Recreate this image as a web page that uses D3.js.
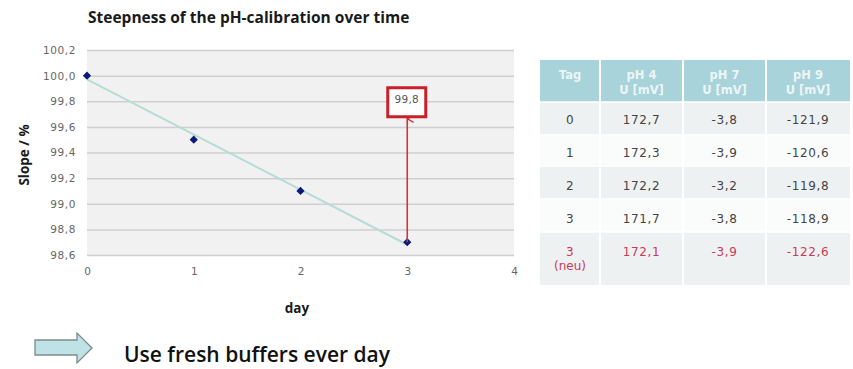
<!DOCTYPE html>
<html>
<head>
<meta charset="utf-8">
<script src="https://cdn.jsdelivr.net/npm/d3@7"></script>
<style>
  html, body { margin: 0; padding: 0; background: #fff; }
  svg { display: block; }
</style>
</head>
<body>
<svg id="chart" width="853" height="369"></svg>
<script>
// Calibration slope per day
const days = [0, 1, 2, 3];
const slopes = [100.0, 99.5, 99.1, 98.7];
const freshSlope = 99.8;          // slope after switching to new buffers on day 3
const yTicks = [98.6, 98.8, 99.0, 99.2, 99.4, 99.6, 99.8, 100.0, 100.2];
const xTicks = [0, 1, 2, 3, 4];

// Electrode voltages per buffer
const tableHeader = [["Tag"], ["pH 4", "U [mV]"], ["pH 7", "U [mV]"], ["pH 9", "U [mV]"]];
const tagLabels = [["0"], ["1"], ["2"], ["3"], ["3", "(neu)"]];
const ph4 = [172.7, 172.3, 172.2, 171.7, 172.1];
const ph7 = [-3.8, -3.9, -3.2, -3.8, -3.9];
const ph9 = [-121.9, -120.6, -119.8, -118.9, -122.6];

const svg = d3.select("#chart");
const comma = v => d3.format(".1f")(v).replace(".", ",").replace("\u2212", "-");
const sans = "Open Sans, sans-serif";
const numFont = "DejaVu Sans, Verdana, sans-serif";

// ---- scatter chart ----
const x = d3.scaleLinear().domain([0, 4]).range([87, 514]);
const y = d3.scaleLinear().domain([98.6, 100.2]).range([255, 50]);

svg.append("text")
  .attr("x", 88).attr("y", 23)
  .attr("font-family", sans).attr("font-weight", 700)
  .attr("font-size", 15.5).attr("fill", "#1a1a1a")
  .text("Steepness of the pH-calibration over time");

svg.append("rect")
  .attr("x", x(0)).attr("y", y(100.2))
  .attr("width", x(4) - x(0)).attr("height", y(98.6) - y(100.2))
  .attr("fill", "#f1f1f1");

const yAxis = svg.append("g").attr("transform", `translate(${x(0)},0)`)
  .call(d3.axisLeft(y).tickValues(yTicks).tickFormat(comma).tickSize(-(x(4) - x(0))).tickPadding(11));
yAxis.select(".domain").remove();
yAxis.selectAll("line").attr("stroke", "#cfcfcf").attr("stroke-width", 1.5);
yAxis.selectAll("text").attr("font-family", numFont)
  .attr("font-size", 10.5).attr("letter-spacing", 0.6).attr("fill", "#666");

const xAxis = svg.append("g").attr("transform", `translate(0,${y(98.6)})`)
  .call(d3.axisBottom(x).tickValues(xTicks).tickFormat(d3.format("d")).tickSize(0).tickPadding(13));
xAxis.select(".domain").remove();
xAxis.selectAll("text").attr("font-family", numFont)
  .attr("font-size", 10.5).attr("fill", "#666");

// linear trend line through the daily slopes
const n = days.length;
const mx = d3.mean(days), my = d3.mean(slopes);
const b = d3.sum(days, (d, i) => (d - mx) * (slopes[i] - my)) / d3.sum(days, d => (d - mx) ** 2);
const a = my - b * mx;
svg.append("line")
  .attr("x1", x(days[0])).attr("y1", y(a + b * days[0]))
  .attr("x2", x(days[n - 1])).attr("y2", y(a + b * days[n - 1]))
  .attr("stroke", "#b5ddd6").attr("stroke-width", 2);

// diamond markers
svg.append("g").selectAll("path").data(days).join("path")
  .attr("transform", (d, i) => `translate(${x(d)},${y(slopes[i])}) rotate(45)`)
  .attr("d", "M-2.9,-2.9H2.9V2.9H-2.9Z")
  .attr("fill", "#0a1a7a");

svg.append("text")
  .attr("transform", `translate(29,155) rotate(-90)`)
  .attr("text-anchor", "middle")
  .attr("font-family", sans).attr("font-weight", 700)
  .attr("font-size", 13.5).attr("fill", "#1a1a1a")
  .text("Slope / %");

svg.append("text")
  .attr("x", 297).attr("y", 313).attr("text-anchor", "middle")
  .attr("font-family", sans).attr("font-weight", 700)
  .attr("font-size", 13.5).attr("fill", "#1a1a1a")
  .text("day");

// callout: slope with fresh buffers
const lastDay = days[n - 1];
const boxW = 38, boxH = 29;
const bx = x(lastDay) - boxW / 2 - 0.5, by = y(freshSlope) - 13.5;
const defs = svg.append("defs");
defs.append("marker").attr("id", "head")
  .attr("viewBox", "0 0 10 10").attr("refX", 5).attr("refY", 1)
  .attr("markerWidth", 9).attr("markerHeight", 9).attr("orient", "auto-start-reverse")
  .attr("markerUnits", "userSpaceOnUse")
  .append("path").attr("d", "M1,8 L5,1 L9,8").attr("fill", "none")
  .attr("stroke", "#d0343a").attr("stroke-width", 1.6);
svg.append("line")
  .attr("x1", x(lastDay)).attr("y1", y(slopes[n - 1]))
  .attr("x2", x(lastDay)).attr("y2", by + boxH + 2)
  .attr("stroke", "#d0343a").attr("stroke-width", 1.6)
  .attr("marker-end", "url(#head)");
svg.append("rect")
  .attr("x", bx).attr("y", by).attr("width", boxW).attr("height", boxH)
  .attr("fill", "#fff").attr("stroke", "#c8202a").attr("stroke-width", 3);
svg.append("text")
  .attr("x", bx + boxW / 2).attr("y", by + 15).attr("text-anchor", "middle")
  .attr("font-family", numFont).attr("font-size", 10.5).attr("letter-spacing", 0.3)
  .attr("fill", "#555").text(comma(freshSlope));

// ---- data table ----
const colX = [540, 600, 683, 766, 850];
const headerTop = 60, headerBottom = 102;
const rowEdges = [102, 135, 166, 199, 232, 285];

const tbl = svg.append("g");
tbl.append("rect").attr("x", colX[0]).attr("y", headerTop)
  .attr("width", colX[4] - colX[0]).attr("height", headerBottom - headerTop)
  .attr("fill", "#a9d3da");
tagLabels.forEach((t, r) => {
  tbl.append("rect").attr("x", colX[0]).attr("y", rowEdges[r])
    .attr("width", colX[4] - colX[0]).attr("height", rowEdges[r + 1] - rowEdges[r])
    .attr("fill", r % 2 === 0 ? "#eef1f2" : "#fafcfc");
});
// white cell separators
colX.slice(1, 4).forEach(cx => {
  tbl.append("line").attr("x1", cx).attr("x2", cx).attr("y1", headerTop).attr("y2", rowEdges[5])
    .attr("stroke", "#fff").attr("stroke-width", 2);
});
rowEdges.slice(0, 5).forEach(ry => {
  tbl.append("line").attr("x1", colX[0]).attr("x2", colX[4]).attr("y1", ry).attr("y2", ry)
    .attr("stroke", "#fff").attr("stroke-width", 1.5);
});

tableHeader.forEach((lines, c) => {
  const cx = (colX[c] + colX[c + 1]) / 2;
  lines.forEach((s, k) => {
    tbl.append("text")
      .attr("x", cx).attr("y", lines.length === 1 ? 79 : 79 + k * 15)
      .attr("text-anchor", "middle").attr("font-family", numFont)
      .attr("font-weight", 700).attr("font-size", 11.5).attr("fill", "#fff")
      .attr("fill-opacity", 0.8)
      .text(s);
  });
});

const rowBase = [124, 157, 190, 223, 256];
tagLabels.forEach((t, r) => {
  const red = r === tagLabels.length - 1;
  const col = red ? "#c93a58" : "#444";
  const cells = [null, comma(ph4[r]), comma(ph7[r]), comma(ph9[r])];
  t.forEach((s, k) => {
    tbl.append("text").attr("x", (colX[0] + colX[1]) / 2).attr("y", rowBase[r] + k * 14)
      .attr("text-anchor", "middle").attr("font-family", numFont)
      .attr("font-size", 12).attr("letter-spacing", k ? 0 : 0.5).attr("fill", col).text(s);
  });
  cells.slice(1).forEach((s, c) => {
    tbl.append("text").attr("x", (colX[c + 1] + colX[c + 2]) / 2).attr("y", rowBase[r])
      .attr("text-anchor", "middle").attr("font-family", numFont)
      .attr("font-size", 12).attr("letter-spacing", 0.6).attr("fill", col).text(s);
  });
});

// ---- recommendation ----
svg.append("path")
  .attr("d", "M35,340 H77 V333 L92,348 L77,363 V355 H35 Z")
  .attr("fill", "#bfe2e7").attr("stroke", "#7d8a8c").attr("stroke-width", 1.3);
svg.append("text")
  .attr("x", 124).attr("y", 362)
  .attr("font-family", sans).attr("font-weight", 600).attr("font-size", 21)
  .attr("fill", "#111")
  .text("Use fresh buffers ever day");
</script>
</body>
</html>
